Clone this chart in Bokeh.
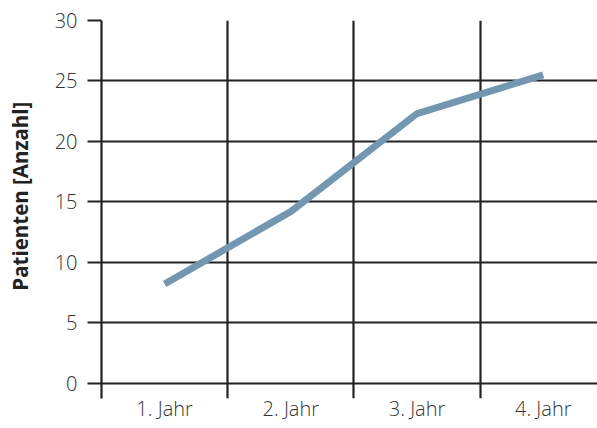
from bokeh.plotting import figure
from bokeh.models import Range1d, FixedTicker
from bokeh.embed import file_html
from bokeh.resources import INLINE

categories = ["1. Jahr", "2. Jahr", "3. Jahr", "4. Jahr"]
patienten = [8.2, 14.2, 22.3, 25.5]
y_ticks = [0, 5, 10, 15, 20, 25, 30]
y_title = "Patienten [Anzahl]"

x_centers = [i + 0.5 for i in range(len(categories))]
x_bounds = list(range(len(categories)))

LIGHT = "'Open Sans Light', 'Open Sans'"

p = figure(width=597, height=428, output_backend="svg", toolbar_location=None,
           x_range=Range1d(0, 3.93), y_range=Range1d(-1.27, 30),
           min_border_left=101, min_border_right=0, min_border_top=20,
           min_border_bottom=30)
p.outline_line_color = None
p.background_fill_color = "white"
p.border_fill_color = "white"

p.line(x_centers, patienten, line_color="#7397b1", line_width=7,
       line_cap="butt", line_join="miter")

# grids
p.xgrid.ticker = FixedTicker(ticks=x_bounds)
p.ygrid.ticker = FixedTicker(ticks=y_ticks)
for g in (p.xgrid[0], p.ygrid[0]):
    g.grid_line_color = "#222222"
    g.grid_line_width = 2.2
    g.level = "underlay"

# x axis
xa = p.xaxis[0]
xa.ticker = FixedTicker(ticks=x_centers)
xa.major_label_overrides = {c: lab for c, lab in zip(x_centers, categories)}
xa.axis_line_color = None
xa.major_tick_line_color = None
xa.major_tick_out = 0
xa.major_tick_in = 0
xa.minor_tick_line_color = None
xa.major_label_standoff = -4
xa.major_label_text_font = LIGHT
xa.major_label_text_font_size = "20px"
xa.major_label_text_color = "#333333"

# y axis
ya = p.yaxis[0]
ya.ticker = FixedTicker(ticks=y_ticks)
ya.axis_line_color = "#222222"
ya.axis_line_width = 2.2
ya.major_tick_line_color = "#222222"
ya.major_tick_line_width = 2.2
ya.major_tick_out = 14
ya.major_tick_in = 0
ya.minor_tick_line_color = None
ya.major_label_standoff = 10
ya.major_label_text_font = LIGHT
ya.major_label_text_font_size = "20px"
ya.major_label_text_color = "#333333"
# leading no-break spaces shift the title up to centre it on the 0..30 span
ya.axis_label = "\u00a0" * 5 + y_title
ya.axis_label_text_font = "Open Sans"
ya.axis_label_text_font_style = "bold"
ya.axis_label_text_font_size = "20.5px"
ya.axis_label_text_color = "#222222"
ya.axis_label_standoff = 18

open("out.html", "w").write(file_html(p, INLINE))
